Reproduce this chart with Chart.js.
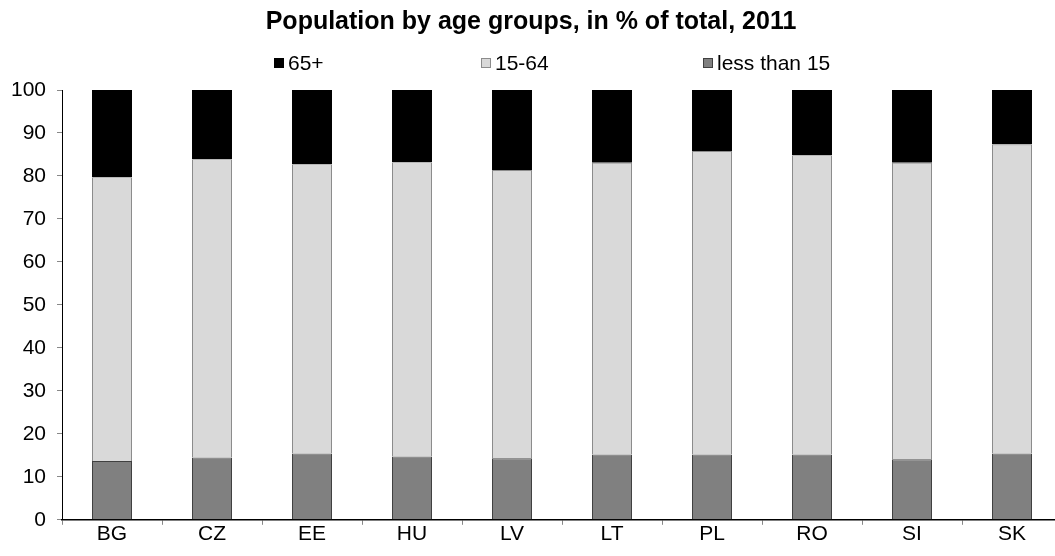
<!DOCTYPE html>
<html>
<head>
<meta charset="utf-8">
<script src="https://cdn.jsdelivr.net/npm/chart.js@4/dist/chart.umd.min.js"></script>
<style>
  html, body { margin: 0; padding: 0; background: #ffffff; overflow: hidden; width: 1055px; height: 556px; }
  #wrap { position: absolute; left: 0; top: 0; width: 1066px; height: 556px; }
</style>
</head>
<body>
<div id="wrap"><canvas id="c" width="1066" height="556"></canvas></div>
<script>
const categories = ["BG", "CZ", "EE", "HU", "LV", "LT", "PL", "RO", "SI", "SK"];
const seriesNames = ["65+", "15-64", "less than 15"];
const under15 = [13.7, 14.5, 15.4, 14.7, 14.3, 15.2, 15.2, 15.2, 14.1, 15.4];
const age15to64 = [66.0, 69.4, 67.3, 68.5, 67.1, 67.9, 70.6, 69.6, 69.0, 71.9];
const age65plus = [20.3, 16.1, 17.3, 16.8, 18.6, 16.9, 14.2, 15.2, 16.9, 12.7];
const yTicks = [0, 10, 20, 30, 40, 50, 60, 70, 80, 90, 100];

const FONT = '"Liberation Sans", Arial, sans-serif';

const legendRow = {
  id: 'legendRow',
  afterDraw(chart, args, opts) {
    const ctx = chart.ctx;
    ctx.save();
    ctx.font = opts.fontSize + 'px ' + FONT;
    ctx.textBaseline = 'middle';
    ctx.textAlign = 'left';
    opts.items.forEach((it, i) => {
      const x = opts.starts[i];
      const y = opts.y;
      const s = opts.box;
      ctx.fillStyle = it.fill;
      ctx.fillRect(x, y - s / 2, s, s);
      ctx.strokeStyle = it.stroke;
      ctx.lineWidth = 1;
      ctx.strokeRect(x + 0.5, y - s / 2 + 0.5, s - 1, s - 1);
      ctx.fillStyle = '#000';
      ctx.fillText(it.text, x + s + opts.gap, y + 1);
    });
    ctx.restore();
  }
};

const fills = ['#000000', '#d9d9d9', '#808080'];
const strokes = ['#000000', '#8c8c8c', '#404040'];

new Chart(document.getElementById('c'), {
  type: 'bar',
  data: {
    labels: categories,
    datasets: [
      { label: seriesNames[2], data: under15, backgroundColor: fills[2], borderColor: strokes[2], borderWidth: 1 },
      { label: seriesNames[1], data: age15to64, backgroundColor: fills[1], borderColor: strokes[1], borderWidth: 1 },
      { label: seriesNames[0], data: age65plus, backgroundColor: fills[0], borderColor: strokes[0], borderWidth: 1 }
    ]
  },
  plugins: [legendRow],
  options: {
    responsive: false,
    animation: false,
    devicePixelRatio: 1,
    layout: { padding: { left: 0, right: 4, top: 0, bottom: 12 } },
    datasets: { bar: { categoryPercentage: 1.0, barPercentage: 0.4 } },
    plugins: {
      legend: { display: false },
      tooltip: { enabled: false },
      title: {
        display: true,
        text: 'Population by age groups, in % of total, 2011',
        color: '#000',
        font: { family: FONT, size: 25, weight: 'bold' },
        padding: { top: 7, bottom: 53 }
      },
      legendRow: {
        y: 63,
        box: 10,
        gap: 4,
        fontSize: 21,
        starts: [274, 481, 703],
        items: seriesNames.map((t, i) => ({ text: t, fill: fills[i], stroke: strokes[i] }))
      }
    },
    scales: {
      x: {
        stacked: true,
        offset: true,
        border: { display: true, color: '#000', width: 1.5 },
        grid: { display: true, drawOnChartArea: false, drawTicks: true, tickLength: 5, color: '#888', offset: true },
        ticks: { color: '#000', font: { family: FONT, size: 21 }, padding: -3, maxRotation: 0 }
      },
      y: {
        stacked: true,
        min: 0,
        max: 100,
        afterBuildTicks(scale) { scale.ticks = yTicks.map(v => ({ value: v })); },
        afterFit(scale) { scale.width = 62; },
        border: { display: true, color: '#000', width: 1 },
        grid: { display: true, drawOnChartArea: false, drawTicks: true, tickLength: 5, color: '#888' },
        ticks: { color: '#000', font: { family: FONT, size: 21 }, padding: 11 }
      }
    }
  }
});
</script>
</body>
</html>
